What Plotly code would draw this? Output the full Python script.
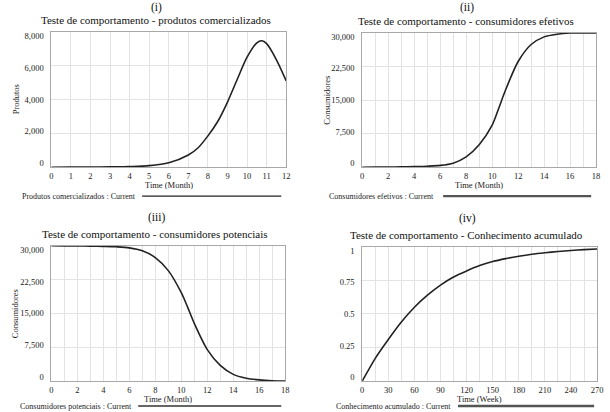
import plotly.graph_objects as go

# ---------------- data ----------------
months_i = [0, 1, 2, 3, 4, 5, 6, 7, 7.5, 8, 8.5, 9, 9.5, 10, 10.5, 10.75, 11, 11.5, 12]
produtos = [0, 2, 8, 20, 40, 90, 260, 720, 1150, 1850, 2700, 3850, 5200, 6500, 7350, 7470, 7300, 6350, 5100]

months_ii = [0, 1, 2, 3, 4, 5, 6, 7, 8, 9, 10, 10.5, 11, 12, 13, 14, 15, 16, 17, 18]
efetivos = [0, 10, 30, 60, 120, 220, 400, 900, 2300, 5000, 9400, 13100, 17000, 23600, 27400, 29100, 29700, 29950, 30000, 30000]

months_iii = [0, 1, 2, 3, 4, 5, 6, 7, 8, 9, 10, 10.5, 11, 12, 13, 14, 15, 16, 17, 18]
potenciais = [30000, 29990, 29970, 29940, 29880, 29780, 29550, 28900, 27400, 24500, 19600, 16300, 12800, 7000, 3500, 1500, 650, 280, 100, 40]

weeks_iv = [0, 15, 30, 45, 60, 75, 90, 105, 120, 135, 150, 165, 180, 195, 210, 225, 240, 255, 270]
conhecimento = [0, 0.17, 0.31, 0.44, 0.55, 0.64, 0.715, 0.775, 0.82, 0.86, 0.89, 0.912, 0.93, 0.945, 0.956, 0.965, 0.973, 0.979, 0.984]

y_tick_values = [[0, 2000, 4000, 6000, 8000],
                 [0, 7500, 15000, 22500, 30000],
                 [0, 7500, 15000, 22500, 30000],
                 [0, 0.25, 0.5, 0.75, 1]]
y_tick_labels = [["0", "2,000", "4,000", "6,000", "8,000"],
                 ["0", "7,500", "15,000", "22,500", "30,000"],
                 ["0", "7,500", "15,000", "22,500", "30,000"],
                 ["0", "0.25", "0.5", "0.75", "1"]]

titles = ["Teste de comportamento - produtos comercializados",
          "Teste de comportamento - consumidores efetivos",
          "Teste de comportamento - consumidores potenciais",
          "Teste de comportamento - Conhecimento acumulado"]
roman = ["(i)", "(ii)", "(iii)", "(iv)"]
legend_texts = ["Produtos comercializados : Current",
                "Consumidores efetivos : Current",
                "Consumidores potenciais : Current",
                "Conhecimento acumulado : Current"]
x_titles = ["Time (Month)", "Time (Month)", "Time (Month)", "Time (Week)"]
y_titles = ["Produtos", "Consumidores", "Consumidores", ""]

# ---------------- layout helpers ----------------
W, H = 610, 412
FONT = "Times New Roman, Liberation Serif, DejaVu Serif, serif"
GRID = "#e3e3e3"
FRAME = "#a8a8a8"
TXT = "#222222"

def px(x):
    return x / W

def py(y):
    return 1 - y / H

# plot rectangles in pixels: (x0, x1, ytop, ybottom)
rects = [(50, 288, 31, 167), (365, 602, 32, 167), (50, 287, 246, 382), (365, 603, 247, 382)]

fig = go.Figure()
series = [(months_i, produtos), (months_ii, efetivos), (months_iii, potenciais), (weeks_iv, conhecimento)]
for i, (xs, ys) in enumerate(series):
    sfx = "" if i == 0 else str(i + 1)
    fig.add_trace(go.Scatter(x=xs, y=ys, mode="lines", xaxis="x" + sfx, yaxis="y" + sfx,
                             line=dict(color="#222222", width=1.6, shape="spline", smoothing=0.8),
                             showlegend=False, hoverinfo="skip"))

x_specs = [dict(range=[0, 12], dtick=1, minor=None),
           dict(range=[0, 18], dtick=2, minor=1),
           dict(range=[0, 18], dtick=2, minor=1),
           dict(range=[0, 270], dtick=30, minor=15)]
y_ranges = [[0, 8000], [0, 30000], [0, 30000], [0, 1]]

layout = dict(width=W, height=H, margin=dict(l=0, r=0, t=0, b=0),
              paper_bgcolor="white", plot_bgcolor="white",
              font=dict(family=FONT, size=8, color=TXT),
              showlegend=False)

annotations = []
shapes = []
for i, (x0, x1, yt, yb) in enumerate(rects):
    sfx = "" if i == 0 else str(i + 1)
    xs = x_specs[i]
    lo, hi = y_ranges[i]
    hpx = yb - yt
    xa = dict(domain=[px(x0), px(x1)], range=xs["range"], dtick=xs["dtick"], tick0=0,
              showgrid=True, gridcolor=GRID, gridwidth=1, zeroline=False,
              showline=True, mirror=True, linecolor=FRAME, linewidth=1,
              ticks="", tickfont=dict(size=8.5, family=FONT, color=TXT), anchor="y" + sfx,
              ticklabeloverflow="allow", ticklabelstandoff=1, fixedrange=True)
    if xs["minor"]:
        xa["minor"] = dict(dtick=xs["minor"], tick0=0, showgrid=True, gridcolor=GRID, gridwidth=1)
    # Vensim places value labels inset 4px from the frame ends, evenly spread
    lab_pos = [lo + (hi - lo) * (4 + (v - lo) / (hi - lo) * (hpx - 8)) / hpx for v in y_tick_values[i]]
    ya = dict(domain=[py(yb), py(yt)], range=[lo, hi],
              tickmode="array", tickvals=lab_pos, ticktext=y_tick_labels[i],
              showgrid=False, zeroline=False,
              minor=dict(tickmode="array", tickvals=y_tick_values[i], showgrid=True,
                         gridcolor=GRID, gridwidth=1, ticks=""),
              showline=True, mirror=True, linecolor=FRAME, linewidth=1,
              ticks="", tickfont=dict(size=8.5, family=FONT, color=TXT), anchor="x" + sfx,
              ticklabelstandoff=5, fixedrange=True)
    layout["xaxis" + sfx] = xa
    layout["yaxis" + sfx] = ya

    cx = (x0 + x1) / 2
    # roman numeral
    annotations.append(dict(text=roman[i], x=px(cx - 12), y=py(max(yt - 28, 7)), xref="paper", yref="paper",
                            showarrow=False, font=dict(size=11.5, family=FONT, color="#111111"),
                            xanchor="center", yanchor="middle"))
    # title
    annotations.append(dict(text=titles[i], x=px(cx - 13), y=py(yt - 12), xref="paper", yref="paper",
                            showarrow=False, font=dict(size=11, family=FONT, color="#111111"),
                            xanchor="center", yanchor="middle"))
    # x title
    annotations.append(dict(text=x_titles[i], x=px(cx), y=py(yb + 18), xref="paper", yref="paper",
                            showarrow=False, font=dict(size=8.5, family=FONT, color=TXT),
                            xanchor="center", yanchor="middle"))
    # y title
    if y_titles[i]:
        annotations.append(dict(text=y_titles[i], x=px(x0 - 36), y=py((yt + yb) / 2), xref="paper", yref="paper",
                                showarrow=False, textangle=-90, font=dict(size=8.5, family=FONT, color=TXT),
                                xanchor="center", yanchor="middle"))

# legend rows (text right edge, line x0, line x1, y, colour, width)
leg = [(138, 142, 283, 196, "#222222", 1.3),
       (440, 447, 597, 196, "#555555", 2.2),
       (134, 138, 283, 407, "#333333", 1.6),
       (457, 462, 600, 407, "#555555", 2.6)]
for i, (tx, lx0, lx1, ly, col, lw) in enumerate(leg):
    annotations.append(dict(text=legend_texts[i], x=px(tx), y=py(ly), xref="paper", yref="paper",
                            showarrow=False, font=dict(size=8, family=FONT, color=TXT),
                            xanchor="right", yanchor="middle"))
    shapes.append(dict(type="line", xref="paper", yref="paper", x0=px(lx0), x1=px(lx1),
                       y0=py(ly), y1=py(ly), line=dict(color=col, width=lw)))

layout["annotations"] = annotations
layout["shapes"] = shapes
fig.update_layout(**layout)
fig.write_html("out.html", config={"displayModeBar": False},
               post_script="document.body.style.margin='0';document.body.style.overflow='hidden';")
